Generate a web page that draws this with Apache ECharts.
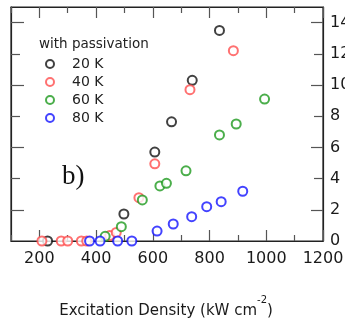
<!DOCTYPE html>
<html><head><meta charset="utf-8">
<script src="https://cdn.jsdelivr.net/npm/echarts@6/dist/echarts.min.js"></script>
<style>html,body{margin:0;padding:0;background:#fff}#c{width:345px;height:325px}</style>
</head><body><div id="c"></div>
<script>
const seriesNames = ['20 K', '40 K', '60 K', '80 K'];
const seriesColors = ['#111111', '#ff4d4d', '#1e9a1e', '#1414ff'];
const data20K = [[229,0],[498,1.73],[607,5.7],[666,7.64],[739,10.3],[835,13.5]];
const data40K = [[209,0],[277,0],[300,0],[348,0],[367,0],[448,0.35],[471,0.55],[551,2.78],[607,4.95],[731,9.7],[884,12.2]];
const data60K = [[432,0.3],[489,0.92],[563,2.63],[625,3.53],[648,3.7],[717,4.5],[835,6.8],[894,7.5],[994,9.1]];
const data80K = [[377,0],[414,0],[476,0],[526,0],[615,0.64],[672,1.09],[737,1.56],[790,2.2],[841,2.52],[917,3.19]];
const xMajorTicks = [200, 400, 600, 800, 1000, 1200];
const xMinorTicks = [100, 300, 500, 700, 900, 1100];
const yLabelValues = [0, 2, 4, 6, 8, 10, 12, 14];
const yLongTicks = [2, 6, 10, 14];
const yShortTicks = [4, 8, 12];
const allData = [data20K, data40K, data60K, data80K];

const font = 'DejaVu Sans';
const lineCol = '#222';
const tickCol = '#555';
const gridBox = { left: 11, right: 22, top: 7, bottom: 84, containLabel: false, outerBoundsMode: 'none' };

function xAx(grid, pos, ticks, len, labels, showLine) {
  return {
    type: 'value', gridIndex: grid, position: pos, min: 100, max: 1200,
    axisLine: { show: showLine, onZero: false, lineStyle: { color: lineCol, width: 1.2 } },
    axisTick: { show: true, inside: true, length: len, customValues: ticks, lineStyle: { color: tickCol, width: 1.2 } },
    axisLabel: labels ? { show: true, customValues: xMajorTicks, formatter: v => String(v), margin: 10, fontSize: 16, fontFamily: font, color: '#1a1a1a' } : { show: false },
    splitLine: { show: false }
  };
}
function yAx(grid, pos, ticks, len, labels, showLine) {
  return {
    type: 'value', gridIndex: grid, position: pos, min: 0, max: 15,
    axisLine: { show: showLine, onZero: false, lineStyle: { color: lineCol, width: 1.2 } },
    axisTick: { show: true, inside: true, length: len, customValues: ticks, lineStyle: { color: tickCol, width: 1.2 } },
    axisLabel: labels ? { show: true, customValues: yLabelValues, formatter: v => String(v), margin: 7, fontSize: 16, fontFamily: font, color: '#1a1a1a' } : { show: false },
    splitLine: { show: false }
  };
}

const chart = echarts.init(document.getElementById('c'));
chart.setOption({
  animation: false,
  grid: [
    Object.assign({ show: true, borderColor: lineCol, borderWidth: 1.2, backgroundColor: 'transparent' }, gridBox),
    Object.assign({}, gridBox)
  ],
  xAxis: [
    xAx(0, 'bottom', xMajorTicks, 11, true, true),
    xAx(0, 'top', xMajorTicks, 11, false, true),
    xAx(1, 'bottom', xMinorTicks, 6, false, false),
    xAx(1, 'top', xMinorTicks, 6, false, false)
  ],
  yAxis: [
    yAx(0, 'right', yLongTicks, 12, true, true),
    yAx(0, 'left', yLongTicks, 13, false, true),
    yAx(1, 'right', yShortTicks, 9, false, false),
    yAx(1, 'left', yShortTicks, 9, false, false)
  ],
  title: [
    { text: 'with passivation', left: 39, top: 37, padding: 0,
      textStyle: { fontSize: 13.5, fontWeight: 'normal', fontFamily: font, color: '#222' } },
    { text: 'b)', left: 62, top: 163, padding: 0,
      textStyle: { fontSize: 27, fontWeight: 'normal', fontFamily: 'Liberation Serif', color: '#111' } },
    { text: '{a|Excitation Density (kW cm}{s|-2}{a|)}', left: 166, top: 295, padding: 0, textAlign: 'center',
      textStyle: {
        fontWeight: 'normal',
        rich: {
          a: { fontSize: 15, fontFamily: font, color: '#1a1a1a', lineHeight: 32 },
          s: { fontSize: 10, fontFamily: font, color: '#1a1a1a', lineHeight: 10, verticalAlign: 'top' }
        }
      } }
  ],
  legend: {
    orient: 'vertical', left: 40, top: 52, itemWidth: 34, itemHeight: 8, itemGap: 4,
    data: seriesNames,
    textStyle: { fontSize: 14, fontFamily: font, color: '#222' }
  },
  series: seriesNames.map((n, i) => ({
    name: n, type: 'scatter', xAxisIndex: 0, yAxisIndex: 0,
    symbol: 'emptyCircle', symbolSize: 9,
    itemStyle: { color: seriesColors[i], borderColor: seriesColors[i], borderWidth: 1.5 },
    data: allData[i]
  }))
});
</script></body></html>
